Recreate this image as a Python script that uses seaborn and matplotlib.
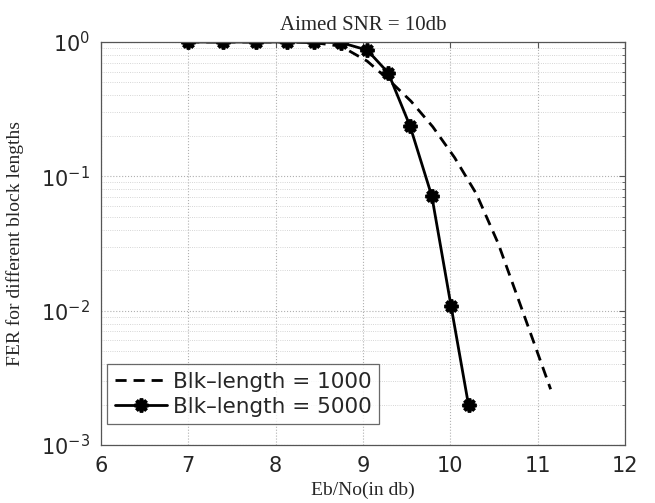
import numpy as np
import pandas as pd
import matplotlib
matplotlib.use("Agg")
import matplotlib.pyplot as plt
import seaborn as sns
from matplotlib.ticker import LogLocator, NullFormatter, FixedLocator

# data
ebno_5000 = [7.0, 7.4, 7.78, 8.13, 8.44, 8.75, 9.05, 9.29, 9.54, 9.79, 10.01, 10.21]
fer_5000 = [1.0, 1.0, 1.0, 1.0, 1.0, 0.99, 0.87, 0.59, 0.237, 0.071, 0.0108, 0.00198]
ebno_1000 = [7.0, 7.4, 7.78, 8.13, 8.44, 8.75, 9.05, 9.3, 9.55, 9.8, 10.05, 10.3, 10.55, 10.8, 11.15]
fer_1000 = [1.0, 1.0, 1.0, 1.0, 0.99, 0.93, 0.72, 0.52, 0.363, 0.234, 0.138, 0.074, 0.0316, 0.0112, 0.0026]
labels = ["Blk\u2013length = 1000", "Blk\u2013length = 5000"]
title = "Aimed SNR = 10db"
xlabel = "Eb/No(in db)"
ylabel = "FER for different block lengths"
xticks = [6, 7, 8, 9, 10, 11, 12]

sns.set_style("white")
plt.rcParams['font.family'] = ['DejaVu Sans']

fig = plt.figure(figsize=(6.55, 5.03), dpi=100)
ax = fig.add_axes([0.154, 0.1153, 0.8, 0.8012])

sns.lineplot(x=ebno_1000, y=fer_1000, ax=ax, color="black", linewidth=2.0,
             linestyle=(0, (4, 2.5)), label=labels[0])
sns.lineplot(x=ebno_5000, y=fer_5000, ax=ax, color="black", linewidth=2.0,
             label=labels[1])
star = (8, 2, 0)
solid = ax.lines[1]
solid.set_marker(star)
solid.set_markersize(10)
solid.set_markeredgewidth(2.6)
solid.set_markeredgecolor("black")
solid.set_markerfacecolor("black")

ax.set_yscale("log")
ax.set_xlim(6, 12)
ax.set_ylim(1e-3, 1)
ax.xaxis.set_major_locator(FixedLocator(xticks))
ax.yaxis.set_major_locator(LogLocator(base=10, numticks=10))
ax.yaxis.set_minor_locator(LogLocator(base=10, subs=np.arange(2, 10), numticks=10))
ax.yaxis.set_minor_formatter(NullFormatter())

ax.grid(True, which="major", axis="both", linestyle=":", color="#b0b0b0", linewidth=0.8)
ax.grid(True, which="minor", axis="y", linestyle=":", color="#c8c8c8", linewidth=0.6)

ax.tick_params(axis="both", which="both", direction="in", top=True, right=True,
               labelsize=15, color="#555555", pad=8)
ax.tick_params(which="major", length=4)
ax.tick_params(which="minor", length=2.5)
for s in ax.spines.values():
    s.set_color("#555555")
    s.set_linewidth(0.9)

serif = ['Liberation Serif', 'DejaVu Serif']
ax.set_title(title, family=serif, fontsize=15, pad=9)
ax.set_xlabel(xlabel, family=serif, fontsize=14, labelpad=4)
ax.set_ylabel(ylabel, family=serif, fontsize=14, labelpad=12)

leg = ax.legend(loc="lower left", bbox_to_anchor=(0.0, 0.035), fontsize=15.5,
                frameon=True, fancybox=False, edgecolor="#444444",
                handlelength=2.4, borderpad=0.35, labelspacing=0.25,
                handletextpad=0.3, borderaxespad=0.3)
leg.get_frame().set_linewidth(0.9)
leg.legend_handles[1].set_marker(star)
leg.legend_handles[1].set_markersize(10)
leg.legend_handles[1].set_markeredgewidth(2.6)

fig.savefig("out.png", dpi=100)
